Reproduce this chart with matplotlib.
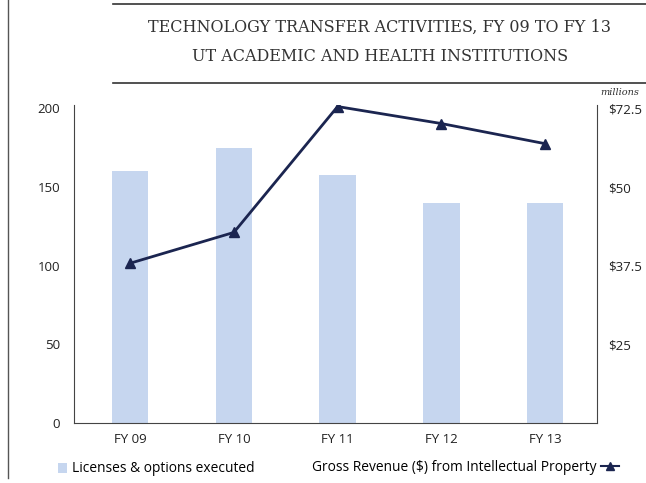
import matplotlib; matplotlib.use("Agg")
import matplotlib.pyplot as plt
from matplotlib.lines import Line2D
from matplotlib.patches import Patch
import numpy as np

# values
YEARS = ["FY 09", "FY 10", "FY 11", "FY 12", "FY 13"]
LICENSES = [160, 175, 158, 140, 140]          # left axis, count
REVENUE = [37.9, 42.8, 62.8, 60.1, 56.9]      # right axis, $ millions
LEFT_TICKS = [0, 50, 100, 150, 200]
RIGHT_TICKS = [25, 37.5, 50, 62.5]
RIGHT_LABELS = ["$25", "$37.5", "$50", "$72.5"]   # label as printed in the source

BAR_C = "#c6d6ef"
LINE_C = "#1b2550"
AX_C = "#444444"
SANS = "Open Sans"

fig = plt.figure(figsize=(6.46, 4.83), dpi=100)
ax = fig.add_axes([0.1146, 0.124, 0.8096, 0.658])
x = np.arange(len(YEARS))
ax.bar(x, LICENSES, 0.35, color=BAR_C)
ax.set_xlim(-0.54, 4.5)
ax.set_ylim(0, 202)
ax.set_yticks(LEFT_TICKS)
ax.set_xticks(x)
ax.set_xticklabels(YEARS)
for s in ["top", "right"]:
    ax.spines[s].set_visible(False)
for s in ["left", "bottom"]:
    ax.spines[s].set_color(AX_C)
ax.tick_params(length=0, labelsize=9.5, labelcolor="#222222", pad=10)
ax.tick_params(axis="x", pad=7)
for lab in ax.get_xticklabels() + ax.get_yticklabels():
    lab.set_fontfamily(SANS)

ax2 = ax.twinx()
ax2.plot(x, REVENUE, color=LINE_C, lw=2, marker="^", ms=7)
ax2.set_ylim(12.5, 12.5 + 202 / 4)
ax2.set_yticks(RIGHT_TICKS)
ax2.set_yticklabels(RIGHT_LABELS)
for s in ["top", "left", "bottom"]:
    ax2.spines[s].set_visible(False)
ax2.spines["right"].set_color(AX_C)
ax2.tick_params(length=0, labelsize=9.5, labelcolor="#222222", pad=8)
for lab in ax2.get_yticklabels():
    lab.set_fontfamily(SANS)

# header rules and title
fig.add_artist(Line2D([0.175, 1.0], [0.992, 0.992], color="#333333", lw=1.2))
fig.add_artist(Line2D([0.175, 1.0], [0.828, 0.828], color="#333333", lw=1.2))
fig.add_artist(Line2D([0.013, 0.013], [0.01, 1.0], color="#555555", lw=1.0))
fig.text(0.588, 0.943, "TECHNOLOGY TRANSFER ACTIVITIES, FY 09 TO FY 13",
         ha="center", va="center", family="DejaVu Serif", fontsize=11.5, color="#333333")
fig.text(0.588, 0.882, "UT ACADEMIC AND HEALTH INSTITUTIONS",
         ha="center", va="center", family="DejaVu Serif", fontsize=11.5, color="#333333")
fig.text(0.99, 0.808, "millions", ha="right", va="center", family="DejaVu Serif",
         style="italic", fontsize=7, color="#333333")

# legends
h1 = [Patch(facecolor=BAR_C, edgecolor="none")]
fig.legend(h1, ["Licenses & options executed"], loc="center left",
           bbox_to_anchor=(0.0898, 0.029), frameon=False, borderpad=0, borderaxespad=0,
           handlelength=0.65, handleheight=0.75, handletextpad=0.36,
           prop={"family": SANS, "size": 9.9})
h2 = [Line2D([], [], color=LINE_C, lw=1.5, marker="^", ms=6)]
fig.legend(h2, ["Gross Revenue ($) from Intellectual Property"], loc="center left",
           bbox_to_anchor=(0.483, 0.033), frameon=False, markerfirst=False,
           borderpad=0, borderaxespad=0, handlelength=1.25, handletextpad=0.36,
           prop={"family": SANS, "size": 9.9})

fig.savefig("out.png", dpi=100)
